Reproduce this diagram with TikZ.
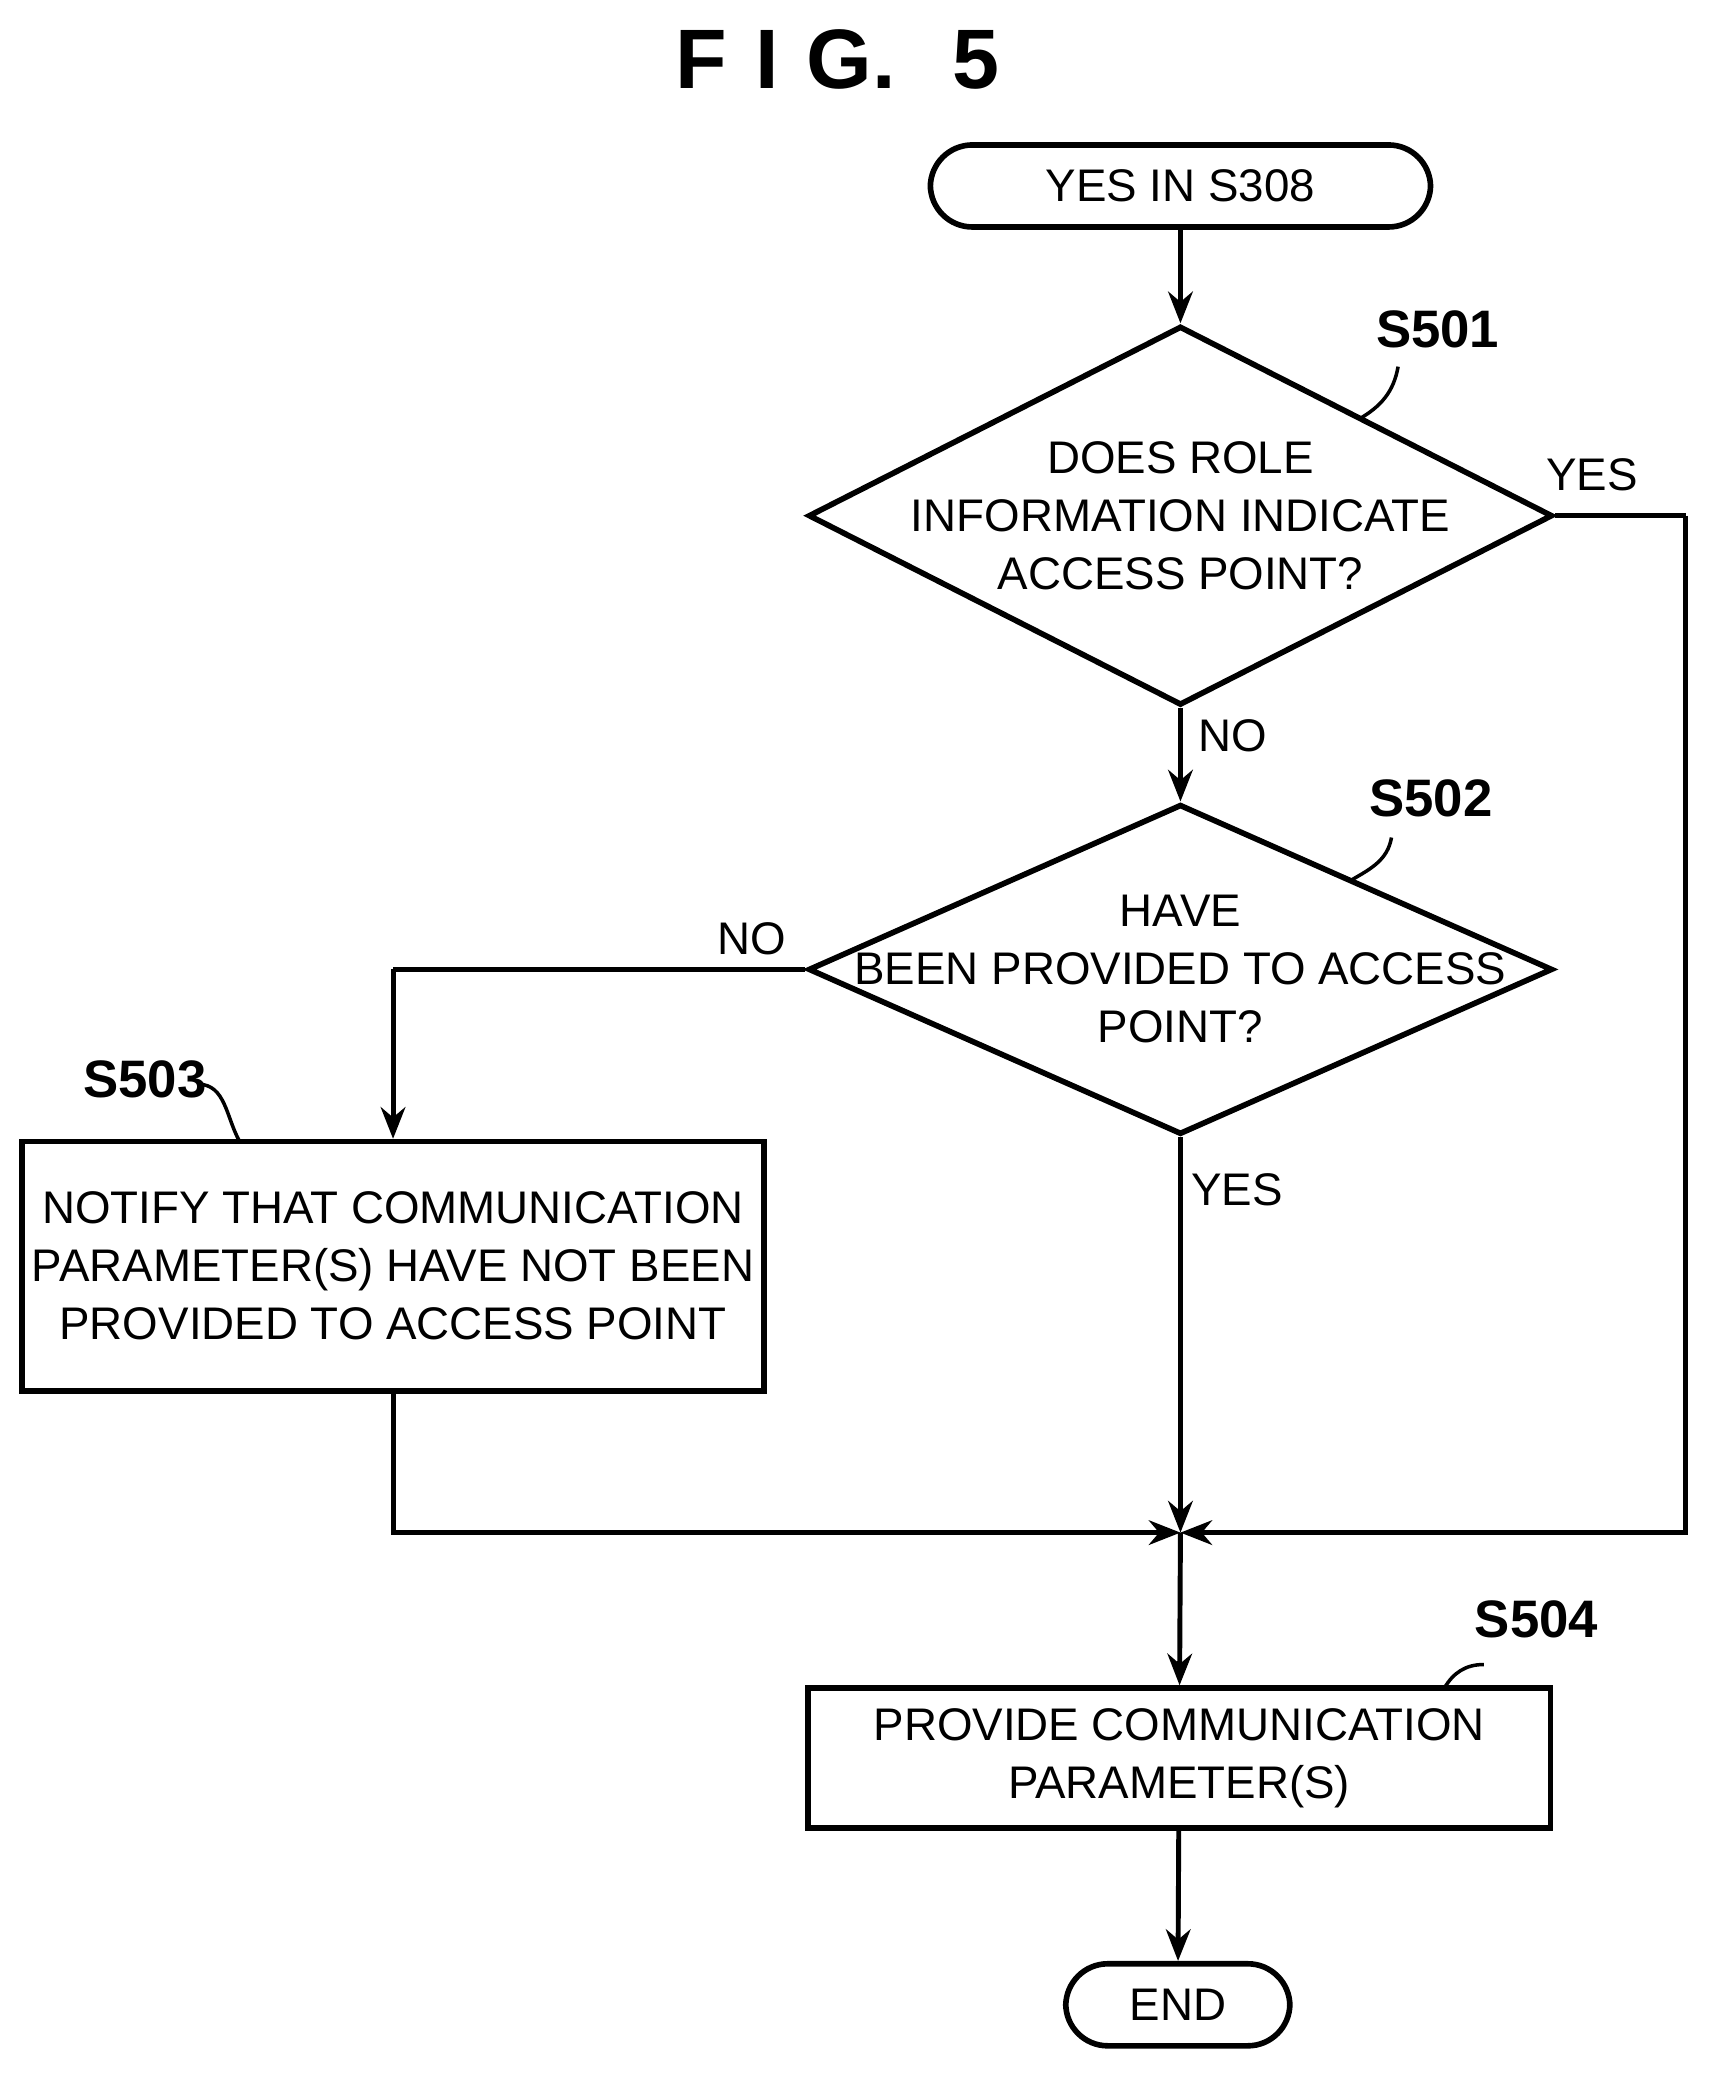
\documentclass[tikz,border=0pt]{standalone}
\usepackage{fontspec}
\setmainfont{Liberation Sans}
\usetikzlibrary{shapes.geometric,arrows.meta}
\tikzset{
  flow/.style={draw, line width=1.6pt, font=\fontsize{13}{16.5}\selectfont, align=center},
  term/.style={flow, rounded corners=0.42cm, minimum width=5.22cm, minimum height=0.82cm},
  decision/.style={flow, diamond, inner sep=0pt, minimum width=7.44cm},
  proc/.style={flow, rectangle, inner sep=2pt, minimum width=7.42cm},
  txt/.style={font=\fontsize{13}{16.5}\selectfont, align=center},
  line/.style={line width=1.4pt},
  arr/.style={line, -{Stealth[length=9pt,width=7pt]}},
  steplbl/.style={font=\bfseries\fontsize{15}{18}\selectfont},
  lbl/.style={font=\fontsize{13}{16}\selectfont},
}
\begin{document}
\begin{tikzpicture}[x=0.01319cm, y=-0.01319cm]
\useasboundingbox (0,0) rectangle (1300,1574);
% Title
\node[font=\bfseries\fontsize{24}{28}\selectfont] (title) at (635,45) {F\,\,I\,\,G.\,\,\,\,5};

% Nodes
\node[term, minimum width=5.0cm] (start) at (895,141) {YES IN S308};
\node[decision, minimum height=3.79cm] (s501) at (895,391) {};
\node[txt] (t501) at (s501.center) {DOES ROLE\\INFORMATION INDICATE\\ACCESS POINT?};
\node[decision, minimum height=3.30cm] (s502) at (895,735) {};
\node[txt] (t502) at (s502.center) {HAVE\\BEEN PROVIDED TO ACCESS\\POINT?};
\node[proc, minimum height=2.49cm] (s503) at (298,960) {NOTIFY THAT COMMUNICATION\\PARAMETER(S) HAVE NOT BEEN\\PROVIDED TO ACCESS POINT};
\node[proc, minimum height=1.40cm] (s504) at (894,1333) {PROVIDE COMMUNICATION\\PARAMETER(S)};
\node[term, minimum width=2.24cm] (end) at (893,1520) {END};
\coordinate (join) at (895,1162);
\coordinate (rt) at (1278,391);
\coordinate (lt) at (298,735);

% Step labels
\node[steplbl] (l501) at (1090,250) {S501};
\node[steplbl] (l502) at (1085,605) {S502};
\node[steplbl] (l503) at (110,818) {S503};
\node[steplbl] (l504) at (1165,1228) {S504};
\draw[line width=1pt] (1060,278) to[out=-100,in=30] (1030,318);
\draw[line width=1pt] (1055,635) to[out=-100,in=30] (1025,667);
\draw[line width=1pt] (150,822) to[out=0,in=120] (182,866);
\draw[line width=1pt] (1125,1262) to[out=180,in=60] (1095,1280);

% Connections
\draw[arr] (start) -- (s501);
\draw[arr] (s501.south) -- (s502.north);
\draw[line] (s501.east) -- (rt);
\draw[arr] (rt) |- (join);
\draw[line] (s502.west) -- (lt);
\draw[arr] (lt) -- (s503.north);
\draw[arr] (s502.south) -- (join);
\draw[arr] (s503.south) |- (join);
\draw[arr] (join) -- (s504);
\draw[arr] (s504) -- (end);

% Branch labels
\node[lbl] (y501) at (1207,360) {YES};
\node[lbl] (n501) at (935,558) {NO};
\node[lbl] (n502) at (570,712) {NO};
\node[lbl] (y502) at (938,902) {YES};
\end{tikzpicture}
\end{document}
